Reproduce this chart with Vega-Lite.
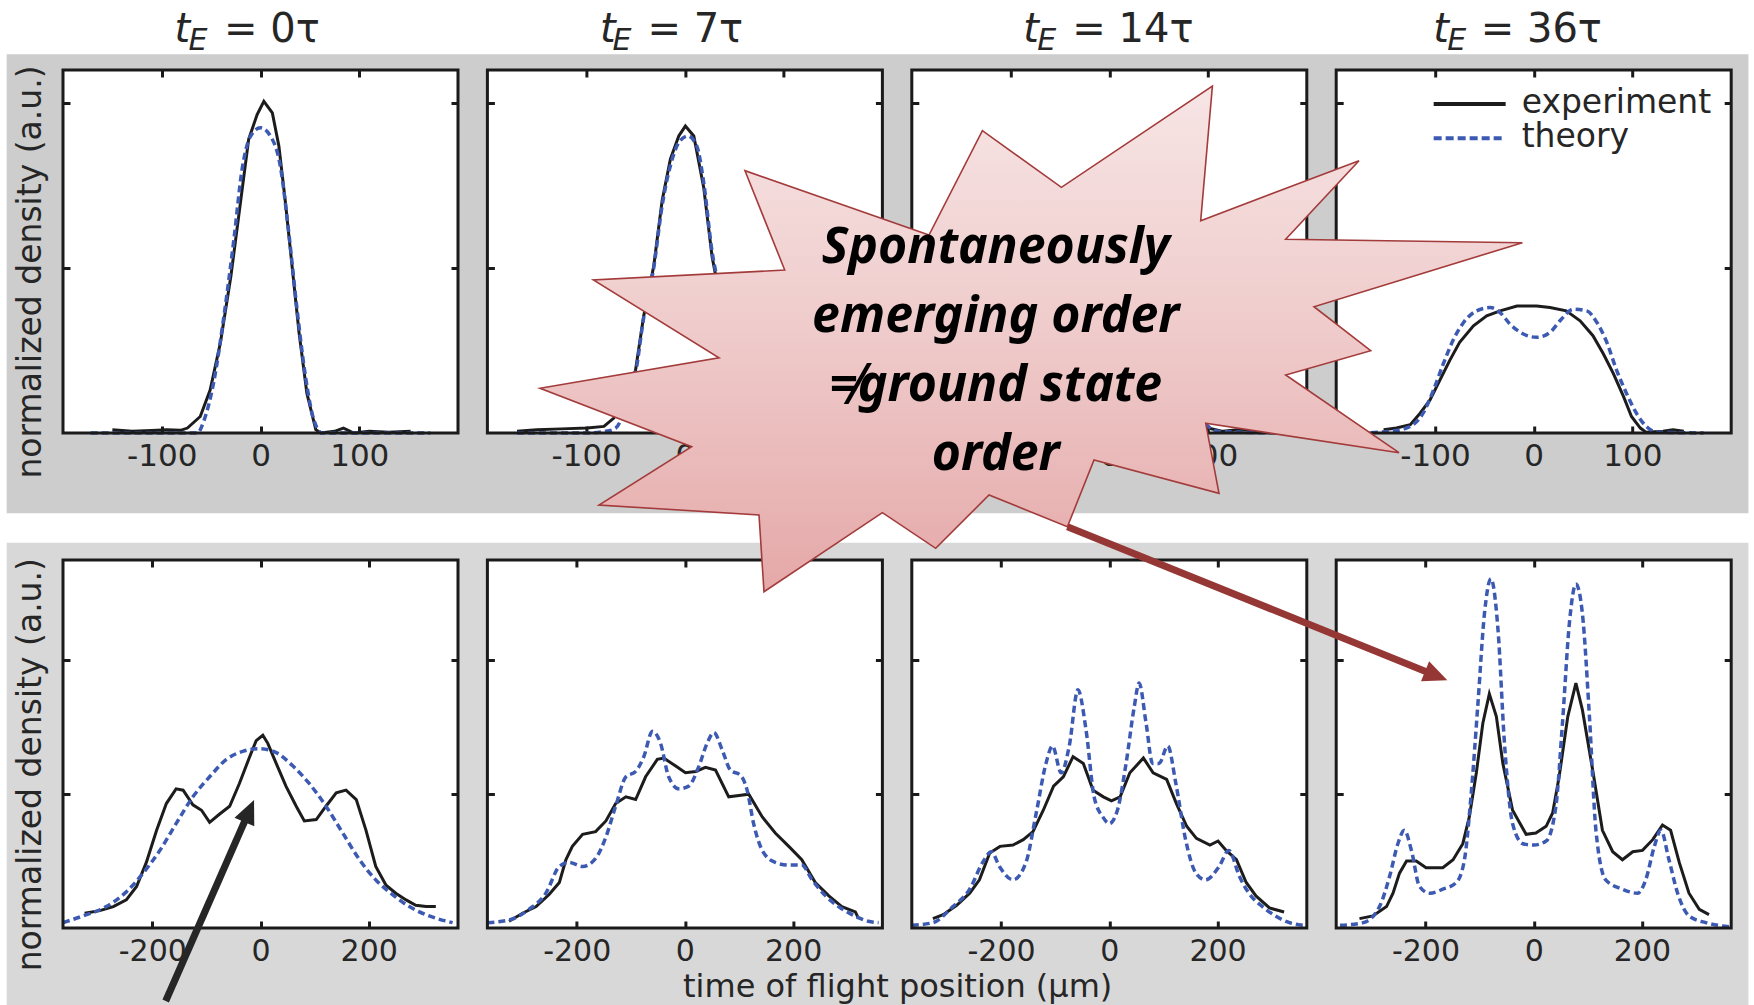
{
  "$schema": "https://vega.github.io/schema/vega-lite/v6.json",
  "background": "white",
  "padding": 0,
  "columns": 4,
  "spacing": {"row": 127, "column": 29.4},
  "bounds": "flush",
  "resolve": {"scale": {"x": "independent", "y": "independent"}, "axis": {"x": "independent", "y": "independent"}},
  "config": {
    "view": {"stroke": null, "fill": "white"},
    "axis": {"grid": false, "domain": false, "tickColor": "#1a1a1a", "tickWidth": 3, "tickSize": -7, "labelFont": "DejaVu Sans", "labelColor": "#262626", "titleFont": "DejaVu Sans", "titleColor": "#262626", "titleFontWeight": "normal", "labelFlush": false, "labelOverlap": false},
    "text": {"font": "DejaVu Sans", "color": "#262626"}
  },
  "datasets": {
    "curves": [
      {"panel": "top0", "series": "experiment", "x": -150, "y": 0.02}, {"panel": "top0", "series": "experiment", "x": -130, "y": 0.01}, {"panel": "top0", "series": "experiment", "x": -110, "y": 0.015}, {"panel": "top0", "series": "experiment", "x": -95, "y": 0.02}, {"panel": "top0", "series": "experiment", "x": -81, "y": 0.016}, {"panel": "top0", "series": "experiment", "x": -74, "y": 0.03}, {"panel": "top0", "series": "experiment", "x": -61, "y": 0.1}, {"panel": "top0", "series": "experiment", "x": -51, "y": 0.26}, {"panel": "top0", "series": "experiment", "x": -40.5, "y": 0.55}, {"panel": "top0", "series": "experiment", "x": -30, "y": 0.95}, {"panel": "top0", "series": "experiment", "x": -20, "y": 1.41}, {"panel": "top0", "series": "experiment", "x": -12, "y": 1.78}, {"panel": "top0", "series": "experiment", "x": -3.4, "y": 1.93}, {"panel": "top0", "series": "experiment", "x": 3.4, "y": 2.01}, {"panel": "top0", "series": "experiment", "x": 12, "y": 1.94}, {"panel": "top0", "series": "experiment", "x": 18.6, "y": 1.74}, {"panel": "top0", "series": "experiment", "x": 25, "y": 1.41}, {"panel": "top0", "series": "experiment", "x": 32, "y": 1.01}, {"panel": "top0", "series": "experiment", "x": 39, "y": 0.61}, {"panel": "top0", "series": "experiment", "x": 47, "y": 0.24}, {"panel": "top0", "series": "experiment", "x": 56, "y": 0.02}, {"panel": "top0", "series": "experiment", "x": 61, "y": 0}, {"panel": "top0", "series": "experiment", "x": 75, "y": 0.01}, {"panel": "top0", "series": "experiment", "x": 84, "y": 0.03}, {"panel": "top0", "series": "experiment", "x": 94.5, "y": 0}, {"panel": "top0", "series": "experiment", "x": 110, "y": 0.01}, {"panel": "top0", "series": "experiment", "x": 130, "y": 0.005}, {"panel": "top0", "series": "experiment", "x": 152, "y": 0.01},
      {"panel": "top0", "series": "theory", "x": -172, "y": 0}, {"panel": "top0", "series": "theory", "x": -64, "y": 0}, {"panel": "top0", "series": "theory", "x": -57, "y": 0.08}, {"panel": "top0", "series": "theory", "x": -47, "y": 0.32}, {"panel": "top0", "series": "theory", "x": -37, "y": 0.71}, {"panel": "top0", "series": "theory", "x": -27, "y": 1.17}, {"panel": "top0", "series": "theory", "x": -18.6, "y": 1.6}, {"panel": "top0", "series": "theory", "x": -10, "y": 1.8}, {"panel": "top0", "series": "theory", "x": 0, "y": 1.85}, {"panel": "top0", "series": "theory", "x": 10, "y": 1.8}, {"panel": "top0", "series": "theory", "x": 20, "y": 1.62}, {"panel": "top0", "series": "theory", "x": 28.7, "y": 1.21}, {"panel": "top0", "series": "theory", "x": 37, "y": 0.75}, {"panel": "top0", "series": "theory", "x": 45.6, "y": 0.34}, {"panel": "top0", "series": "theory", "x": 54, "y": 0.08}, {"panel": "top0", "series": "theory", "x": 62.4, "y": 0}, {"panel": "top0", "series": "theory", "x": 172, "y": 0},
      {"panel": "top7", "series": "experiment", "x": -170, "y": 0.01}, {"panel": "top7", "series": "experiment", "x": -150, "y": 0.02}, {"panel": "top7", "series": "experiment", "x": -125, "y": 0.025}, {"panel": "top7", "series": "experiment", "x": -99, "y": 0.03}, {"panel": "top7", "series": "experiment", "x": -82, "y": 0.04}, {"panel": "top7", "series": "experiment", "x": -72, "y": 0.09}, {"panel": "top7", "series": "experiment", "x": -62, "y": 0.2}, {"panel": "top7", "series": "experiment", "x": -50, "y": 0.38}, {"panel": "top7", "series": "experiment", "x": -41.7, "y": 0.71}, {"panel": "top7", "series": "experiment", "x": -31.6, "y": 1.01}, {"panel": "top7", "series": "experiment", "x": -23, "y": 1.41}, {"panel": "top7", "series": "experiment", "x": -14.7, "y": 1.66}, {"panel": "top7", "series": "experiment", "x": -6.2, "y": 1.8}, {"panel": "top7", "series": "experiment", "x": 0.5, "y": 1.86}, {"panel": "top7", "series": "experiment", "x": 9, "y": 1.8}, {"panel": "top7", "series": "experiment", "x": 19, "y": 1.49}, {"panel": "top7", "series": "experiment", "x": 27.5, "y": 1.07}, {"panel": "top7", "series": "experiment", "x": 32.6, "y": 0.91}, {"panel": "top7", "series": "experiment", "x": 40, "y": 0.6}, {"panel": "top7", "series": "experiment", "x": 50, "y": 0.3}, {"panel": "top7", "series": "experiment", "x": 60, "y": 0.12}, {"panel": "top7", "series": "experiment", "x": 70, "y": 0.05}, {"panel": "top7", "series": "experiment", "x": 82, "y": 0.03}, {"panel": "top7", "series": "experiment", "x": 100, "y": 0.03}, {"panel": "top7", "series": "experiment", "x": 125, "y": 0.02}, {"panel": "top7", "series": "experiment", "x": 150, "y": 0.02}, {"panel": "top7", "series": "experiment", "x": 170, "y": 0.01},
      {"panel": "top7", "series": "theory", "x": -170, "y": 0}, {"panel": "top7", "series": "theory", "x": -100, "y": 0}, {"panel": "top7", "series": "theory", "x": -80, "y": 0.01}, {"panel": "top7", "series": "theory", "x": -70, "y": 0.03}, {"panel": "top7", "series": "theory", "x": -62, "y": 0.12}, {"panel": "top7", "series": "theory", "x": -50, "y": 0.36}, {"panel": "top7", "series": "theory", "x": -41.7, "y": 0.7}, {"panel": "top7", "series": "theory", "x": -31.6, "y": 1.0}, {"panel": "top7", "series": "theory", "x": -23, "y": 1.38}, {"panel": "top7", "series": "theory", "x": -14.7, "y": 1.62}, {"panel": "top7", "series": "theory", "x": -6.2, "y": 1.76}, {"panel": "top7", "series": "theory", "x": 3, "y": 1.8}, {"panel": "top7", "series": "theory", "x": 12, "y": 1.74}, {"panel": "top7", "series": "theory", "x": 19, "y": 1.52}, {"panel": "top7", "series": "theory", "x": 27.5, "y": 1.1}, {"panel": "top7", "series": "theory", "x": 32.6, "y": 0.93}, {"panel": "top7", "series": "theory", "x": 40, "y": 0.62}, {"panel": "top7", "series": "theory", "x": 50, "y": 0.3}, {"panel": "top7", "series": "theory", "x": 60, "y": 0.1}, {"panel": "top7", "series": "theory", "x": 70, "y": 0.02}, {"panel": "top7", "series": "theory", "x": 80, "y": 0}, {"panel": "top7", "series": "theory", "x": 170, "y": 0},
      {"panel": "top14", "series": "experiment", "x": -175, "y": 0.01}, {"panel": "top14", "series": "experiment", "x": -150, "y": 0.02}, {"panel": "top14", "series": "experiment", "x": -125, "y": 0.02}, {"panel": "top14", "series": "experiment", "x": -105, "y": 0.05}, {"panel": "top14", "series": "experiment", "x": -90, "y": 0.15}, {"panel": "top14", "series": "experiment", "x": -75, "y": 0.4}, {"panel": "top14", "series": "experiment", "x": -60, "y": 0.75}, {"panel": "top14", "series": "experiment", "x": -45, "y": 1.05}, {"panel": "top14", "series": "experiment", "x": -30, "y": 1.25}, {"panel": "top14", "series": "experiment", "x": -15, "y": 1.35}, {"panel": "top14", "series": "experiment", "x": 0, "y": 1.38}, {"panel": "top14", "series": "experiment", "x": 15, "y": 1.35}, {"panel": "top14", "series": "experiment", "x": 30, "y": 1.25}, {"panel": "top14", "series": "experiment", "x": 45, "y": 1.05}, {"panel": "top14", "series": "experiment", "x": 60, "y": 0.75}, {"panel": "top14", "series": "experiment", "x": 75, "y": 0.4}, {"panel": "top14", "series": "experiment", "x": 90, "y": 0.12}, {"panel": "top14", "series": "experiment", "x": 100, "y": 0.03}, {"panel": "top14", "series": "experiment", "x": 115, "y": 0.01}, {"panel": "top14", "series": "experiment", "x": 130, "y": 0.02}, {"panel": "top14", "series": "experiment", "x": 150, "y": 0.015}, {"panel": "top14", "series": "experiment", "x": 175, "y": 0.01},
      {"panel": "top14", "series": "theory", "x": -175, "y": 0}, {"panel": "top14", "series": "theory", "x": -110, "y": 0.01}, {"panel": "top14", "series": "theory", "x": -95, "y": 0.08}, {"panel": "top14", "series": "theory", "x": -80, "y": 0.35}, {"panel": "top14", "series": "theory", "x": -65, "y": 0.75}, {"panel": "top14", "series": "theory", "x": -50, "y": 1.1}, {"panel": "top14", "series": "theory", "x": -35, "y": 1.3}, {"panel": "top14", "series": "theory", "x": -20, "y": 1.25}, {"panel": "top14", "series": "theory", "x": -8, "y": 1.15}, {"panel": "top14", "series": "theory", "x": 0, "y": 1.12}, {"panel": "top14", "series": "theory", "x": 8, "y": 1.15}, {"panel": "top14", "series": "theory", "x": 20, "y": 1.25}, {"panel": "top14", "series": "theory", "x": 35, "y": 1.3}, {"panel": "top14", "series": "theory", "x": 50, "y": 1.1}, {"panel": "top14", "series": "theory", "x": 65, "y": 0.75}, {"panel": "top14", "series": "theory", "x": 80, "y": 0.35}, {"panel": "top14", "series": "theory", "x": 95, "y": 0.08}, {"panel": "top14", "series": "theory", "x": 110, "y": 0.01}, {"panel": "top14", "series": "theory", "x": 175, "y": 0},
      {"panel": "top36", "series": "experiment", "x": -152, "y": 0.02}, {"panel": "top36", "series": "experiment", "x": -139, "y": 0.03}, {"panel": "top36", "series": "experiment", "x": -125, "y": 0.05}, {"panel": "top36", "series": "experiment", "x": -115, "y": 0.12}, {"panel": "top36", "series": "experiment", "x": -105, "y": 0.2}, {"panel": "top36", "series": "experiment", "x": -95, "y": 0.32}, {"panel": "top36", "series": "experiment", "x": -85, "y": 0.44}, {"panel": "top36", "series": "experiment", "x": -75, "y": 0.55}, {"panel": "top36", "series": "experiment", "x": -61, "y": 0.65}, {"panel": "top36", "series": "experiment", "x": -47.6, "y": 0.71}, {"panel": "top36", "series": "experiment", "x": -34, "y": 0.74}, {"panel": "top36", "series": "experiment", "x": -17, "y": 0.77}, {"panel": "top36", "series": "experiment", "x": 3, "y": 0.77}, {"panel": "top36", "series": "experiment", "x": 16.5, "y": 0.76}, {"panel": "top36", "series": "experiment", "x": 33, "y": 0.74}, {"panel": "top36", "series": "experiment", "x": 47, "y": 0.68}, {"panel": "top36", "series": "experiment", "x": 60, "y": 0.59}, {"panel": "top36", "series": "experiment", "x": 70.5, "y": 0.48}, {"panel": "top36", "series": "experiment", "x": 80.7, "y": 0.36}, {"panel": "top36", "series": "experiment", "x": 91, "y": 0.22}, {"panel": "top36", "series": "experiment", "x": 99, "y": 0.1}, {"panel": "top36", "series": "experiment", "x": 108, "y": 0.03}, {"panel": "top36", "series": "experiment", "x": 114, "y": 0.004}, {"panel": "top36", "series": "experiment", "x": 131, "y": 0.01}, {"panel": "top36", "series": "experiment", "x": 141, "y": 0.02}, {"panel": "top36", "series": "experiment", "x": 152, "y": 0.01},
      {"panel": "top36", "series": "theory", "x": -176, "y": 0}, {"panel": "top36", "series": "theory", "x": -145, "y": 0.01}, {"panel": "top36", "series": "theory", "x": -125, "y": 0.04}, {"panel": "top36", "series": "theory", "x": -112, "y": 0.12}, {"panel": "top36", "series": "theory", "x": -101.5, "y": 0.26}, {"panel": "top36", "series": "theory", "x": -91.5, "y": 0.42}, {"panel": "top36", "series": "theory", "x": -81, "y": 0.57}, {"panel": "top36", "series": "theory", "x": -71, "y": 0.67}, {"panel": "top36", "series": "theory", "x": -58, "y": 0.74}, {"panel": "top36", "series": "theory", "x": -44, "y": 0.76}, {"panel": "top36", "series": "theory", "x": -34, "y": 0.73}, {"panel": "top36", "series": "theory", "x": -24, "y": 0.66}, {"panel": "top36", "series": "theory", "x": -10.5, "y": 0.6}, {"panel": "top36", "series": "theory", "x": 3, "y": 0.58}, {"panel": "top36", "series": "theory", "x": 16.5, "y": 0.61}, {"panel": "top36", "series": "theory", "x": 28, "y": 0.69}, {"panel": "top36", "series": "theory", "x": 40, "y": 0.75}, {"panel": "top36", "series": "theory", "x": 53.7, "y": 0.74}, {"panel": "top36", "series": "theory", "x": 64, "y": 0.67}, {"panel": "top36", "series": "theory", "x": 74, "y": 0.55}, {"panel": "top36", "series": "theory", "x": 84, "y": 0.38}, {"panel": "top36", "series": "theory", "x": 94, "y": 0.24}, {"panel": "top36", "series": "theory", "x": 104, "y": 0.12}, {"panel": "top36", "series": "theory", "x": 114, "y": 0.04}, {"panel": "top36", "series": "theory", "x": 124.6, "y": 0.006}, {"panel": "top36", "series": "theory", "x": 172, "y": 0},
      {"panel": "bot0", "series": "experiment", "x": -325, "y": 0.11}, {"panel": "bot0", "series": "experiment", "x": -297, "y": 0.13}, {"panel": "bot0", "series": "experiment", "x": -272, "y": 0.16}, {"panel": "bot0", "series": "experiment", "x": -248, "y": 0.21}, {"panel": "bot0", "series": "experiment", "x": -229, "y": 0.31}, {"panel": "bot0", "series": "experiment", "x": -211, "y": 0.49}, {"panel": "bot0", "series": "experiment", "x": -192, "y": 0.73}, {"panel": "bot0", "series": "experiment", "x": -174, "y": 0.93}, {"panel": "bot0", "series": "experiment", "x": -156, "y": 1.04}, {"panel": "bot0", "series": "experiment", "x": -143, "y": 1.03}, {"panel": "bot0", "series": "experiment", "x": -125, "y": 0.92}, {"panel": "bot0", "series": "experiment", "x": -109, "y": 0.88}, {"panel": "bot0", "series": "experiment", "x": -94, "y": 0.79}, {"panel": "bot0", "series": "experiment", "x": -76, "y": 0.85}, {"panel": "bot0", "series": "experiment", "x": -57, "y": 0.91}, {"panel": "bot0", "series": "experiment", "x": -39, "y": 1.08}, {"panel": "bot0", "series": "experiment", "x": -20, "y": 1.28}, {"panel": "bot0", "series": "experiment", "x": -8, "y": 1.4}, {"panel": "bot0", "series": "experiment", "x": 4.3, "y": 1.44}, {"panel": "bot0", "series": "experiment", "x": 13.5, "y": 1.38}, {"panel": "bot0", "series": "experiment", "x": 29, "y": 1.23}, {"panel": "bot0", "series": "experiment", "x": 47, "y": 1.06}, {"panel": "bot0", "series": "experiment", "x": 66, "y": 0.91}, {"panel": "bot0", "series": "experiment", "x": 81, "y": 0.8}, {"panel": "bot0", "series": "experiment", "x": 103, "y": 0.81}, {"panel": "bot0", "series": "experiment", "x": 121, "y": 0.91}, {"panel": "bot0", "series": "experiment", "x": 140, "y": 1.01}, {"panel": "bot0", "series": "experiment", "x": 158, "y": 1.03}, {"panel": "bot0", "series": "experiment", "x": 177, "y": 0.96}, {"panel": "bot0", "series": "experiment", "x": 195, "y": 0.73}, {"panel": "bot0", "series": "experiment", "x": 213, "y": 0.46}, {"panel": "bot0", "series": "experiment", "x": 232, "y": 0.32}, {"panel": "bot0", "series": "experiment", "x": 250, "y": 0.26}, {"panel": "bot0", "series": "experiment", "x": 269, "y": 0.21}, {"panel": "bot0", "series": "experiment", "x": 287, "y": 0.17}, {"panel": "bot0", "series": "experiment", "x": 306, "y": 0.16}, {"panel": "bot0", "series": "experiment", "x": 324, "y": 0.16},
      {"panel": "bot0", "series": "theory", "x": -365, "y": 0.04}, {"panel": "bot0", "series": "theory", "x": -328, "y": 0.09}, {"panel": "bot0", "series": "theory", "x": -285, "y": 0.16}, {"panel": "bot0", "series": "theory", "x": -248, "y": 0.27}, {"panel": "bot0", "series": "theory", "x": -217, "y": 0.41}, {"panel": "bot0", "series": "theory", "x": -186, "y": 0.58}, {"panel": "bot0", "series": "theory", "x": -156, "y": 0.78}, {"panel": "bot0", "series": "theory", "x": -125, "y": 0.98}, {"panel": "bot0", "series": "theory", "x": -94, "y": 1.13}, {"panel": "bot0", "series": "theory", "x": -63, "y": 1.26}, {"panel": "bot0", "series": "theory", "x": -33, "y": 1.32}, {"panel": "bot0", "series": "theory", "x": -2, "y": 1.34}, {"panel": "bot0", "series": "theory", "x": 29, "y": 1.31}, {"panel": "bot0", "series": "theory", "x": 60, "y": 1.21}, {"panel": "bot0", "series": "theory", "x": 90, "y": 1.08}, {"panel": "bot0", "series": "theory", "x": 121, "y": 0.91}, {"panel": "bot0", "series": "theory", "x": 152, "y": 0.71}, {"panel": "bot0", "series": "theory", "x": 183, "y": 0.51}, {"panel": "bot0", "series": "theory", "x": 213, "y": 0.36}, {"panel": "bot0", "series": "theory", "x": 244, "y": 0.25}, {"panel": "bot0", "series": "theory", "x": 275, "y": 0.16}, {"panel": "bot0", "series": "theory", "x": 312, "y": 0.09}, {"panel": "bot0", "series": "theory", "x": 355, "y": 0.04},
      {"panel": "bot7", "series": "experiment", "x": -325, "y": 0.05}, {"panel": "bot7", "series": "experiment", "x": -300, "y": 0.11}, {"panel": "bot7", "series": "experiment", "x": -275, "y": 0.16}, {"panel": "bot7", "series": "experiment", "x": -251, "y": 0.25}, {"panel": "bot7", "series": "experiment", "x": -232, "y": 0.34}, {"panel": "bot7", "series": "experiment", "x": -220, "y": 0.51}, {"panel": "bot7", "series": "experiment", "x": -208, "y": 0.61}, {"panel": "bot7", "series": "experiment", "x": -189, "y": 0.7}, {"panel": "bot7", "series": "experiment", "x": -165, "y": 0.72}, {"panel": "bot7", "series": "experiment", "x": -146, "y": 0.8}, {"panel": "bot7", "series": "experiment", "x": -128, "y": 0.93}, {"panel": "bot7", "series": "experiment", "x": -109, "y": 0.98}, {"panel": "bot7", "series": "experiment", "x": -91, "y": 0.96}, {"panel": "bot7", "series": "experiment", "x": -72.6, "y": 1.13}, {"panel": "bot7", "series": "experiment", "x": -51, "y": 1.26}, {"panel": "bot7", "series": "experiment", "x": -39, "y": 1.27}, {"panel": "bot7", "series": "experiment", "x": -17, "y": 1.21}, {"panel": "bot7", "series": "experiment", "x": 1, "y": 1.16}, {"panel": "bot7", "series": "experiment", "x": 20, "y": 1.17}, {"panel": "bot7", "series": "experiment", "x": 38, "y": 1.2}, {"panel": "bot7", "series": "experiment", "x": 56.6, "y": 1.18}, {"panel": "bot7", "series": "experiment", "x": 81, "y": 0.98}, {"panel": "bot7", "series": "experiment", "x": 100, "y": 0.99}, {"panel": "bot7", "series": "experiment", "x": 118, "y": 1.0}, {"panel": "bot7", "series": "experiment", "x": 143, "y": 0.83}, {"panel": "bot7", "series": "experiment", "x": 167, "y": 0.71}, {"panel": "bot7", "series": "experiment", "x": 192, "y": 0.61}, {"panel": "bot7", "series": "experiment", "x": 216, "y": 0.51}, {"panel": "bot7", "series": "experiment", "x": 241, "y": 0.34}, {"panel": "bot7", "series": "experiment", "x": 266, "y": 0.24}, {"panel": "bot7", "series": "experiment", "x": 290, "y": 0.16}, {"panel": "bot7", "series": "experiment", "x": 315, "y": 0.12}, {"panel": "bot7", "series": "experiment", "x": 321, "y": 0.07},
      {"panel": "bot7", "series": "theory", "x": -365, "y": 0.04}, {"panel": "bot7", "series": "theory", "x": -325, "y": 0.06}, {"panel": "bot7", "series": "theory", "x": -288, "y": 0.14}, {"panel": "bot7", "series": "theory", "x": -257, "y": 0.26}, {"panel": "bot7", "series": "theory", "x": -232, "y": 0.46}, {"panel": "bot7", "series": "theory", "x": -214, "y": 0.49}, {"panel": "bot7", "series": "theory", "x": -189, "y": 0.46}, {"panel": "bot7", "series": "theory", "x": -165, "y": 0.52}, {"panel": "bot7", "series": "theory", "x": -146, "y": 0.68}, {"panel": "bot7", "series": "theory", "x": -128, "y": 0.91}, {"panel": "bot7", "series": "theory", "x": -109, "y": 1.13}, {"panel": "bot7", "series": "theory", "x": -91, "y": 1.17}, {"panel": "bot7", "series": "theory", "x": -76, "y": 1.28}, {"panel": "bot7", "series": "theory", "x": -60, "y": 1.47}, {"panel": "bot7", "series": "theory", "x": -45, "y": 1.38}, {"panel": "bot7", "series": "theory", "x": -30, "y": 1.13}, {"panel": "bot7", "series": "theory", "x": -11, "y": 1.04}, {"panel": "bot7", "series": "theory", "x": 7, "y": 1.06}, {"panel": "bot7", "series": "theory", "x": 26, "y": 1.21}, {"panel": "bot7", "series": "theory", "x": 41, "y": 1.38}, {"panel": "bot7", "series": "theory", "x": 53.5, "y": 1.46}, {"panel": "bot7", "series": "theory", "x": 69, "y": 1.33}, {"panel": "bot7", "series": "theory", "x": 84, "y": 1.18}, {"panel": "bot7", "series": "theory", "x": 103, "y": 1.14}, {"panel": "bot7", "series": "theory", "x": 115, "y": 1.03}, {"panel": "bot7", "series": "theory", "x": 127, "y": 0.78}, {"panel": "bot7", "series": "theory", "x": 143, "y": 0.58}, {"panel": "bot7", "series": "theory", "x": 167, "y": 0.49}, {"panel": "bot7", "series": "theory", "x": 192, "y": 0.47}, {"panel": "bot7", "series": "theory", "x": 216, "y": 0.47}, {"panel": "bot7", "series": "theory", "x": 235, "y": 0.36}, {"panel": "bot7", "series": "theory", "x": 260, "y": 0.24}, {"panel": "bot7", "series": "theory", "x": 284, "y": 0.16}, {"panel": "bot7", "series": "theory", "x": 309, "y": 0.1}, {"panel": "bot7", "series": "theory", "x": 339, "y": 0.05}, {"panel": "bot7", "series": "theory", "x": 358, "y": 0.04},
      {"panel": "bot14", "series": "experiment", "x": -326, "y": 0.07}, {"panel": "bot14", "series": "experiment", "x": -307, "y": 0.1}, {"panel": "bot14", "series": "experiment", "x": -282, "y": 0.17}, {"panel": "bot14", "series": "experiment", "x": -258, "y": 0.26}, {"panel": "bot14", "series": "experiment", "x": -240, "y": 0.36}, {"panel": "bot14", "series": "experiment", "x": -221, "y": 0.56}, {"panel": "bot14", "series": "experiment", "x": -202, "y": 0.61}, {"panel": "bot14", "series": "experiment", "x": -178, "y": 0.62}, {"panel": "bot14", "series": "experiment", "x": -159, "y": 0.66}, {"panel": "bot14", "series": "experiment", "x": -141, "y": 0.72}, {"panel": "bot14", "series": "experiment", "x": -122, "y": 0.88}, {"panel": "bot14", "series": "experiment", "x": -103, "y": 1.06}, {"panel": "bot14", "series": "experiment", "x": -85, "y": 1.13}, {"panel": "bot14", "series": "experiment", "x": -67, "y": 1.28}, {"panel": "bot14", "series": "experiment", "x": -48, "y": 1.23}, {"panel": "bot14", "series": "experiment", "x": -30, "y": 1.03}, {"panel": "bot14", "series": "experiment", "x": -11, "y": 0.98}, {"panel": "bot14", "series": "experiment", "x": 4, "y": 0.95}, {"panel": "bot14", "series": "experiment", "x": 20, "y": 0.98}, {"panel": "bot14", "series": "experiment", "x": 38, "y": 1.16}, {"panel": "bot14", "series": "experiment", "x": 63, "y": 1.27}, {"panel": "bot14", "series": "experiment", "x": 81, "y": 1.16}, {"panel": "bot14", "series": "experiment", "x": 106, "y": 1.11}, {"panel": "bot14", "series": "experiment", "x": 124, "y": 0.93}, {"panel": "bot14", "series": "experiment", "x": 143, "y": 0.76}, {"panel": "bot14", "series": "experiment", "x": 161, "y": 0.67}, {"panel": "bot14", "series": "experiment", "x": 186, "y": 0.62}, {"panel": "bot14", "series": "experiment", "x": 201, "y": 0.65}, {"panel": "bot14", "series": "experiment", "x": 216, "y": 0.58}, {"panel": "bot14", "series": "experiment", "x": 235, "y": 0.51}, {"panel": "bot14", "series": "experiment", "x": 253, "y": 0.34}, {"panel": "bot14", "series": "experiment", "x": 271, "y": 0.24}, {"panel": "bot14", "series": "experiment", "x": 296, "y": 0.15}, {"panel": "bot14", "series": "experiment", "x": 323, "y": 0.12},
      {"panel": "bot14", "series": "theory", "x": -365, "y": 0.02}, {"panel": "bot14", "series": "theory", "x": -326, "y": 0.04}, {"panel": "bot14", "series": "theory", "x": -289, "y": 0.16}, {"panel": "bot14", "series": "theory", "x": -258, "y": 0.29}, {"panel": "bot14", "series": "theory", "x": -234, "y": 0.49}, {"panel": "bot14", "series": "theory", "x": -218, "y": 0.57}, {"panel": "bot14", "series": "theory", "x": -203, "y": 0.46}, {"panel": "bot14", "series": "theory", "x": -178, "y": 0.36}, {"panel": "bot14", "series": "theory", "x": -154, "y": 0.49}, {"panel": "bot14", "series": "theory", "x": -135, "y": 0.86}, {"panel": "bot14", "series": "theory", "x": -117, "y": 1.23}, {"panel": "bot14", "series": "theory", "x": -105, "y": 1.36}, {"panel": "bot14", "series": "theory", "x": -89, "y": 1.16}, {"panel": "bot14", "series": "theory", "x": -74, "y": 1.36}, {"panel": "bot14", "series": "theory", "x": -58, "y": 1.78}, {"panel": "bot14", "series": "theory", "x": -43, "y": 1.48}, {"panel": "bot14", "series": "theory", "x": -28, "y": 0.98}, {"panel": "bot14", "series": "theory", "x": -12, "y": 0.83}, {"panel": "bot14", "series": "theory", "x": 0, "y": 0.78}, {"panel": "bot14", "series": "theory", "x": 15, "y": 0.88}, {"panel": "bot14", "series": "theory", "x": 31, "y": 1.23}, {"panel": "bot14", "series": "theory", "x": 46, "y": 1.65}, {"panel": "bot14", "series": "theory", "x": 55, "y": 1.83}, {"panel": "bot14", "series": "theory", "x": 68, "y": 1.53}, {"panel": "bot14", "series": "theory", "x": 80, "y": 1.23}, {"panel": "bot14", "series": "theory", "x": 92, "y": 1.23}, {"panel": "bot14", "series": "theory", "x": 108, "y": 1.36}, {"panel": "bot14", "series": "theory", "x": 123, "y": 1.08}, {"panel": "bot14", "series": "theory", "x": 141, "y": 0.66}, {"panel": "bot14", "series": "theory", "x": 160, "y": 0.41}, {"panel": "bot14", "series": "theory", "x": 178, "y": 0.36}, {"panel": "bot14", "series": "theory", "x": 203, "y": 0.46}, {"panel": "bot14", "series": "theory", "x": 221, "y": 0.58}, {"panel": "bot14", "series": "theory", "x": 240, "y": 0.39}, {"panel": "bot14", "series": "theory", "x": 258, "y": 0.26}, {"panel": "bot14", "series": "theory", "x": 283, "y": 0.16}, {"panel": "bot14", "series": "theory", "x": 307, "y": 0.09}, {"panel": "bot14", "series": "theory", "x": 333, "y": 0.04}, {"panel": "bot14", "series": "theory", "x": 360, "y": 0.02},
      {"panel": "bot36", "series": "experiment", "x": -322, "y": 0.07}, {"panel": "bot36", "series": "experiment", "x": -297, "y": 0.09}, {"panel": "bot36", "series": "experiment", "x": -272, "y": 0.16}, {"panel": "bot36", "series": "experiment", "x": -260, "y": 0.26}, {"panel": "bot36", "series": "experiment", "x": -248, "y": 0.41}, {"panel": "bot36", "series": "experiment", "x": -235, "y": 0.5}, {"panel": "bot36", "series": "experiment", "x": -217, "y": 0.5}, {"panel": "bot36", "series": "experiment", "x": -199, "y": 0.45}, {"panel": "bot36", "series": "experiment", "x": -168, "y": 0.45}, {"panel": "bot36", "series": "experiment", "x": -149, "y": 0.51}, {"panel": "bot36", "series": "experiment", "x": -131, "y": 0.63}, {"panel": "bot36", "series": "experiment", "x": -119, "y": 0.83}, {"panel": "bot36", "series": "experiment", "x": -106, "y": 1.16}, {"panel": "bot36", "series": "experiment", "x": -94, "y": 1.53}, {"panel": "bot36", "series": "experiment", "x": -82, "y": 1.75}, {"panel": "bot36", "series": "experiment", "x": -69, "y": 1.58}, {"panel": "bot36", "series": "experiment", "x": -57, "y": 1.23}, {"panel": "bot36", "series": "experiment", "x": -39, "y": 0.88}, {"panel": "bot36", "series": "experiment", "x": -14, "y": 0.7}, {"panel": "bot36", "series": "experiment", "x": 4, "y": 0.71}, {"panel": "bot36", "series": "experiment", "x": 23, "y": 0.76}, {"panel": "bot36", "series": "experiment", "x": 35, "y": 0.86}, {"panel": "bot36", "series": "experiment", "x": 47, "y": 1.13}, {"panel": "bot36", "series": "experiment", "x": 63, "y": 1.58}, {"panel": "bot36", "series": "experiment", "x": 78, "y": 1.83}, {"panel": "bot36", "series": "experiment", "x": 90, "y": 1.63}, {"panel": "bot36", "series": "experiment", "x": 109, "y": 1.18}, {"panel": "bot36", "series": "experiment", "x": 127, "y": 0.73}, {"panel": "bot36", "series": "experiment", "x": 146, "y": 0.57}, {"panel": "bot36", "series": "experiment", "x": 164, "y": 0.51}, {"panel": "bot36", "series": "experiment", "x": 183, "y": 0.57}, {"panel": "bot36", "series": "experiment", "x": 201, "y": 0.58}, {"panel": "bot36", "series": "experiment", "x": 220, "y": 0.66}, {"panel": "bot36", "series": "experiment", "x": 238, "y": 0.77}, {"panel": "bot36", "series": "experiment", "x": 253, "y": 0.73}, {"panel": "bot36", "series": "experiment", "x": 269, "y": 0.49}, {"panel": "bot36", "series": "experiment", "x": 287, "y": 0.26}, {"panel": "bot36", "series": "experiment", "x": 306, "y": 0.14}, {"panel": "bot36", "series": "experiment", "x": 324, "y": 0.1},
      {"panel": "bot36", "series": "theory", "x": -358, "y": 0.02}, {"panel": "bot36", "series": "theory", "x": -315, "y": 0.04}, {"panel": "bot36", "series": "theory", "x": -285, "y": 0.16}, {"panel": "bot36", "series": "theory", "x": -266, "y": 0.39}, {"panel": "bot36", "series": "theory", "x": -251, "y": 0.63}, {"panel": "bot36", "series": "theory", "x": -239, "y": 0.73}, {"panel": "bot36", "series": "theory", "x": -226, "y": 0.58}, {"panel": "bot36", "series": "theory", "x": -211, "y": 0.31}, {"panel": "bot36", "series": "theory", "x": -192, "y": 0.26}, {"panel": "bot36", "series": "theory", "x": -168, "y": 0.29}, {"panel": "bot36", "series": "theory", "x": -143, "y": 0.34}, {"panel": "bot36", "series": "theory", "x": -128, "y": 0.51}, {"panel": "bot36", "series": "theory", "x": -116, "y": 0.98}, {"panel": "bot36", "series": "theory", "x": -103, "y": 1.68}, {"panel": "bot36", "series": "theory", "x": -91, "y": 2.35}, {"panel": "bot36", "series": "theory", "x": -79, "y": 2.61}, {"panel": "bot36", "series": "theory", "x": -66, "y": 2.23}, {"panel": "bot36", "series": "theory", "x": -54, "y": 1.38}, {"panel": "bot36", "series": "theory", "x": -39, "y": 0.78}, {"panel": "bot36", "series": "theory", "x": -20, "y": 0.63}, {"panel": "bot36", "series": "theory", "x": 0, "y": 0.62}, {"panel": "bot36", "series": "theory", "x": 23, "y": 0.65}, {"panel": "bot36", "series": "theory", "x": 41, "y": 0.91}, {"panel": "bot36", "series": "theory", "x": 53.5, "y": 1.55}, {"panel": "bot36", "series": "theory", "x": 66, "y": 2.28}, {"panel": "bot36", "series": "theory", "x": 78, "y": 2.57}, {"panel": "bot36", "series": "theory", "x": 90, "y": 2.35}, {"panel": "bot36", "series": "theory", "x": 103, "y": 1.58}, {"panel": "bot36", "series": "theory", "x": 115, "y": 0.73}, {"panel": "bot36", "series": "theory", "x": 133, "y": 0.36}, {"panel": "bot36", "series": "theory", "x": 164, "y": 0.29}, {"panel": "bot36", "series": "theory", "x": 192, "y": 0.26}, {"panel": "bot36", "series": "theory", "x": 207, "y": 0.36}, {"panel": "bot36", "series": "theory", "x": 223, "y": 0.61}, {"panel": "bot36", "series": "theory", "x": 235, "y": 0.73}, {"panel": "bot36", "series": "theory", "x": 250, "y": 0.51}, {"panel": "bot36", "series": "theory", "x": 266, "y": 0.26}, {"panel": "bot36", "series": "theory", "x": 287, "y": 0.09}, {"panel": "bot36", "series": "theory", "x": 318, "y": 0.04}, {"panel": "bot36", "series": "theory", "x": 361, "y": 0.01}
    ]
  },
  "concat": [
    {
      "width": 395, "height": 363,
      "resolve": {"axis": {"x": "independent", "y": "independent"}},
      "layer": [
        {"data": {"values": [{}]}, "mark": {"type": "rect", "color": "white"},
         "encoding": {"x": {"datum": -263.09, "type": "quantitative", "scale": {"domain": [-200, 200], "nice": false, "zero": false}, "axis": null}, "x2": {"datum": 1513.1}, "y": {"datum": 2.2952, "type": "quantitative", "scale": {"domain": [0, 2.2], "nice": false, "zero": false}, "axis": null}, "y2": {"datum": 2.6242}}},
        {"data": {"values": [{}]}, "mark": {"type": "rect", "color": "#cdcdcd"},
         "encoding": {"x": {"datum": -257.01, "type": "quantitative", "scale": {"domain": [-200, 200], "nice": false, "zero": false}, "axis": null}, "x2": {"datum": 1506.73}, "y": {"datum": -0.4867, "type": "quantitative", "scale": {"domain": [0, 2.2], "nice": false, "zero": false}, "axis": null}, "y2": {"datum": 2.2952}}},
        {"data": {"values": [{}]}, "mark": {"type": "rect", "color": "white"},
         "encoding": {"x": {"datum": -200, "type": "quantitative", "scale": {"domain": [-200, 200], "nice": false, "zero": false}, "axis": null}, "x2": {"datum": 200}, "y": {"datum": 0, "type": "quantitative", "scale": {"domain": [0, 2.2], "nice": false, "zero": false}, "axis": null}, "y2": {"datum": 2.2}}},
        {"data": {"name": "curves"}, "transform": [{"filter": "datum.panel == 'top0' && datum.series == 'experiment'"}],
         "mark": {"type": "line", "color": "#1c1c1c", "strokeWidth": 3},
         "encoding": {
           "x": {"field": "x", "type": "quantitative", "scale": {"domain": [-200, 200], "nice": false, "zero": false}, "axis": {"orient": "bottom", "zindex": 1, "values": [-100, 0, 100], "labelFontSize": 31, "labelPadding": 39, "labelBaseline": "alphabetic", "labelExpr": "datum.value < 0 ? '-' + abs(datum.value) : '' + datum.value", "title": null}},
           "y": {"field": "y", "type": "quantitative", "scale": {"domain": [0, 2.2], "nice": false, "zero": false}, "axis": {"orient": "left", "zindex": 1, "values": [1, 2], "labels": false, "title": "normalized density (a.u.)", "titleFontSize": 33, "titleX": -22.3, "titleY": 201.5, "titleAngle": 270, "titleAlign": "center", "titleBaseline": "alphabetic"}}
         }},
        {"data": {"name": "curves"}, "transform": [{"filter": "datum.panel == 'top0' && datum.series == 'theory'"}],
         "mark": {"type": "line", "color": "#3d5ab3", "strokeWidth": 3.5, "strokeDash": [7, 4], "interpolate": "monotone"},
         "encoding": {"x": {"field": "x", "type": "quantitative", "scale": {"domain": [-200, 200], "nice": false, "zero": false}, "axis": null}, "y": {"field": "y", "type": "quantitative", "scale": {"domain": [0, 2.2], "nice": false, "zero": false}, "axis": null}}},
        {"data": {"values": [{}]}, "mark": {"type": "rect", "filled": false, "color": "#1a1a1a", "strokeWidth": 3},
         "encoding": {"x": {"datum": -200, "type": "quantitative", "scale": {"domain": [-200, 200], "nice": false, "zero": false}, "axis": {"orient": "top", "zindex": 1, "values": [-100, 0, 100], "labels": false, "title": null}}, "x2": {"datum": 200}, "y": {"datum": 0, "type": "quantitative", "scale": {"domain": [0, 2.2], "nice": false, "zero": false}, "axis": {"orient": "right", "zindex": 1, "values": [1, 2], "labels": false, "title": null}}, "y2": {"datum": 2.2}}},
        {"data": {"values": [{}]}, "mark": {"type": "text", "text": "t", "fontStyle": "italic", "fontSize": 40, "align": "left", "baseline": "alphabetic", "dx": -86, "dy": -28.3},
         "encoding": {"x": {"datum": 0, "type": "quantitative", "scale": {"domain": [-200, 200], "nice": false, "zero": false}, "axis": null}, "y": {"datum": 2.2, "type": "quantitative", "scale": {"domain": [0, 2.2], "nice": false, "zero": false}, "axis": null}}},
        {"data": {"values": [{}]}, "mark": {"type": "text", "text": "E", "fontStyle": "italic", "fontSize": 30, "align": "left", "baseline": "alphabetic", "dx": -72, "dy": -20},
         "encoding": {"x": {"datum": 0, "type": "quantitative", "scale": {"domain": [-200, 200], "nice": false, "zero": false}, "axis": null}, "y": {"datum": 2.2, "type": "quantitative", "scale": {"domain": [0, 2.2], "nice": false, "zero": false}, "axis": null}}},
        {"data": {"values": [{}]}, "mark": {"type": "text", "text": "= 0τ", "fontSize": 40, "align": "left", "baseline": "alphabetic", "dx": -36.5, "dy": -28.3},
         "encoding": {"x": {"datum": 0, "type": "quantitative", "scale": {"domain": [-200, 200], "nice": false, "zero": false}, "axis": null}, "y": {"datum": 2.2, "type": "quantitative", "scale": {"domain": [0, 2.2], "nice": false, "zero": false}, "axis": null}}}
      ]
    },
    {
      "width": 395, "height": 363,
      "resolve": {"axis": {"x": "independent", "y": "independent"}},
      "layer": [
        {"data": {"name": "curves"}, "transform": [{"filter": "datum.panel == 'top7' && datum.series == 'experiment'"}],
         "mark": {"type": "line", "color": "#1c1c1c", "strokeWidth": 3},
         "encoding": {
           "x": {"field": "x", "type": "quantitative", "scale": {"domain": [-200, 200], "nice": false, "zero": false}, "axis": {"orient": "bottom", "values": [-100, 0, 100], "labelFontSize": 31, "labelPadding": 39, "labelBaseline": "alphabetic", "labelExpr": "datum.value < 0 ? '-' + abs(datum.value) : '' + datum.value", "title": null}},
           "y": {"field": "y", "type": "quantitative", "scale": {"domain": [0, 2.2], "nice": false, "zero": false}, "axis": {"orient": "left", "values": [1, 2], "labels": false, "title": null}}
         }},
        {"data": {"name": "curves"}, "transform": [{"filter": "datum.panel == 'top7' && datum.series == 'theory'"}],
         "mark": {"type": "line", "color": "#3d5ab3", "strokeWidth": 3.5, "strokeDash": [7, 4], "interpolate": "monotone"},
         "encoding": {"x": {"field": "x", "type": "quantitative", "scale": {"domain": [-200, 200], "nice": false, "zero": false}, "axis": null}, "y": {"field": "y", "type": "quantitative", "scale": {"domain": [0, 2.2], "nice": false, "zero": false}, "axis": null}}},
        {"data": {"values": [{}]}, "mark": {"type": "rect", "filled": false, "color": "#1a1a1a", "strokeWidth": 3},
         "encoding": {"x": {"datum": -200, "type": "quantitative", "scale": {"domain": [-200, 200], "nice": false, "zero": false}, "axis": {"orient": "top", "values": [-100, 0, 100], "labels": false, "title": null}}, "x2": {"datum": 200}, "y": {"datum": 0, "type": "quantitative", "scale": {"domain": [0, 2.2], "nice": false, "zero": false}, "axis": {"orient": "right", "values": [1, 2], "labels": false, "title": null}}, "y2": {"datum": 2.2}}},
        {"data": {"values": [{}]}, "mark": {"type": "text", "text": "t", "fontStyle": "italic", "fontSize": 40, "align": "left", "baseline": "alphabetic", "dx": -85, "dy": -28.3},
         "encoding": {"x": {"datum": 0, "type": "quantitative", "scale": {"domain": [-200, 200], "nice": false, "zero": false}, "axis": null}, "y": {"datum": 2.2, "type": "quantitative", "scale": {"domain": [0, 2.2], "nice": false, "zero": false}, "axis": null}}},
        {"data": {"values": [{}]}, "mark": {"type": "text", "text": "E", "fontStyle": "italic", "fontSize": 30, "align": "left", "baseline": "alphabetic", "dx": -72.5, "dy": -20},
         "encoding": {"x": {"datum": 0, "type": "quantitative", "scale": {"domain": [-200, 200], "nice": false, "zero": false}, "axis": null}, "y": {"datum": 2.2, "type": "quantitative", "scale": {"domain": [0, 2.2], "nice": false, "zero": false}, "axis": null}}},
        {"data": {"values": [{}]}, "mark": {"type": "text", "text": "= 7τ", "fontSize": 40, "align": "left", "baseline": "alphabetic", "dx": -37.5, "dy": -28.3},
         "encoding": {"x": {"datum": 0, "type": "quantitative", "scale": {"domain": [-200, 200], "nice": false, "zero": false}, "axis": null}, "y": {"datum": 2.2, "type": "quantitative", "scale": {"domain": [0, 2.2], "nice": false, "zero": false}, "axis": null}}}
      ]
    },
    {
      "width": 395, "height": 363,
      "resolve": {"axis": {"x": "independent", "y": "independent"}},
      "layer": [
        {"data": {"name": "curves"}, "transform": [{"filter": "datum.panel == 'top14' && datum.series == 'experiment'"}],
         "mark": {"type": "line", "color": "#1c1c1c", "strokeWidth": 3},
         "encoding": {
           "x": {"field": "x", "type": "quantitative", "scale": {"domain": [-200, 200], "nice": false, "zero": false}, "axis": {"orient": "bottom", "values": [-100, 0, 100], "labelFontSize": 31, "labelPadding": 39, "labelBaseline": "alphabetic", "labelExpr": "datum.value < 0 ? '-' + abs(datum.value) : '' + datum.value", "title": null}},
           "y": {"field": "y", "type": "quantitative", "scale": {"domain": [0, 2.2], "nice": false, "zero": false}, "axis": {"orient": "left", "values": [1, 2], "labels": false, "title": null}}
         }},
        {"data": {"name": "curves"}, "transform": [{"filter": "datum.panel == 'top14' && datum.series == 'theory'"}],
         "mark": {"type": "line", "color": "#3d5ab3", "strokeWidth": 3.5, "strokeDash": [7, 4], "interpolate": "monotone"},
         "encoding": {"x": {"field": "x", "type": "quantitative", "scale": {"domain": [-200, 200], "nice": false, "zero": false}, "axis": null}, "y": {"field": "y", "type": "quantitative", "scale": {"domain": [0, 2.2], "nice": false, "zero": false}, "axis": null}}},
        {"data": {"values": [{}]}, "mark": {"type": "rect", "filled": false, "color": "#1a1a1a", "strokeWidth": 3},
         "encoding": {"x": {"datum": -200, "type": "quantitative", "scale": {"domain": [-200, 200], "nice": false, "zero": false}, "axis": {"orient": "top", "values": [-100, 0, 100], "labels": false, "title": null}}, "x2": {"datum": 200}, "y": {"datum": 0, "type": "quantitative", "scale": {"domain": [0, 2.2], "nice": false, "zero": false}, "axis": {"orient": "right", "values": [1, 2], "labels": false, "title": null}}, "y2": {"datum": 2.2}}},
        {"data": {"values": [{}]}, "mark": {"type": "text", "text": "t", "fontStyle": "italic", "fontSize": 40, "align": "left", "baseline": "alphabetic", "dx": -86, "dy": -28.3},
         "encoding": {"x": {"datum": 0, "type": "quantitative", "scale": {"domain": [-200, 200], "nice": false, "zero": false}, "axis": null}, "y": {"datum": 2.2, "type": "quantitative", "scale": {"domain": [0, 2.2], "nice": false, "zero": false}, "axis": null}}},
        {"data": {"values": [{}]}, "mark": {"type": "text", "text": "E", "fontStyle": "italic", "fontSize": 30, "align": "left", "baseline": "alphabetic", "dx": -72, "dy": -20},
         "encoding": {"x": {"datum": 0, "type": "quantitative", "scale": {"domain": [-200, 200], "nice": false, "zero": false}, "axis": null}, "y": {"datum": 2.2, "type": "quantitative", "scale": {"domain": [0, 2.2], "nice": false, "zero": false}, "axis": null}}},
        {"data": {"values": [{}]}, "mark": {"type": "text", "text": "= 14τ", "fontSize": 40, "align": "left", "baseline": "alphabetic", "dx": -37, "dy": -28.3},
         "encoding": {"x": {"datum": 0, "type": "quantitative", "scale": {"domain": [-200, 200], "nice": false, "zero": false}, "axis": null}, "y": {"datum": 2.2, "type": "quantitative", "scale": {"domain": [0, 2.2], "nice": false, "zero": false}, "axis": null}}}
      ]
    },
    {
      "width": 395, "height": 363,
      "resolve": {"axis": {"x": "independent", "y": "independent"}},
      "layer": [
        {"data": {"name": "curves"}, "transform": [{"filter": "datum.panel == 'top36' && datum.series == 'experiment'"}],
         "mark": {"type": "line", "color": "#1c1c1c", "strokeWidth": 3},
         "encoding": {
           "x": {"field": "x", "type": "quantitative", "scale": {"domain": [-200, 200], "nice": false, "zero": false}, "axis": {"orient": "bottom", "values": [-100, 0, 100], "labelFontSize": 31, "labelPadding": 39, "labelBaseline": "alphabetic", "labelExpr": "datum.value < 0 ? '-' + abs(datum.value) : '' + datum.value", "title": null}},
           "y": {"field": "y", "type": "quantitative", "scale": {"domain": [0, 2.2], "nice": false, "zero": false}, "axis": {"orient": "left", "values": [1, 2], "labels": false, "title": null}}
         }},
        {"data": {"name": "curves"}, "transform": [{"filter": "datum.panel == 'top36' && datum.series == 'theory'"}],
         "mark": {"type": "line", "color": "#3d5ab3", "strokeWidth": 3.5, "strokeDash": [7, 4], "interpolate": "monotone"},
         "encoding": {"x": {"field": "x", "type": "quantitative", "scale": {"domain": [-200, 200], "nice": false, "zero": false}, "axis": null}, "y": {"field": "y", "type": "quantitative", "scale": {"domain": [0, 2.2], "nice": false, "zero": false}, "axis": null}}},
        {"data": {"values": [{}]}, "mark": {"type": "rect", "filled": false, "color": "#1a1a1a", "strokeWidth": 3},
         "encoding": {"x": {"datum": -200, "type": "quantitative", "scale": {"domain": [-200, 200], "nice": false, "zero": false}, "axis": {"orient": "top", "values": [-100, 0, 100], "labels": false, "title": null}}, "x2": {"datum": 200}, "y": {"datum": 0, "type": "quantitative", "scale": {"domain": [0, 2.2], "nice": false, "zero": false}, "axis": {"orient": "right", "values": [1, 2], "labels": false, "title": null}}, "y2": {"datum": 2.2}}},
        {"data": {"values": [{}]}, "mark": {"type": "rule", "color": "#1c1c1c", "strokeWidth": 4},
         "encoding": {"x": {"datum": -101.3, "type": "quantitative", "scale": {"domain": [-200, 200], "nice": false, "zero": false}, "axis": null}, "x2": {"datum": -28.4}, "y": {"datum": 1.994, "type": "quantitative", "scale": {"domain": [0, 2.2], "nice": false, "zero": false}, "axis": null}}},
        {"data": {"values": [{}]}, "mark": {"type": "rule", "color": "#3d5ab3", "strokeWidth": 4, "strokeDash": [8, 4]},
         "encoding": {"x": {"datum": -101.3, "type": "quantitative", "scale": {"domain": [-200, 200], "nice": false, "zero": false}, "axis": null}, "x2": {"datum": -28.4}, "y": {"datum": 1.786, "type": "quantitative", "scale": {"domain": [0, 2.2], "nice": false, "zero": false}, "axis": null}}},
        {"data": {"values": [{}]}, "mark": {"type": "text", "text": "experiment", "fontSize": 33, "align": "left", "baseline": "alphabetic", "dy": 9},
         "encoding": {"x": {"datum": -12.2, "type": "quantitative", "scale": {"domain": [-200, 200], "nice": false, "zero": false}, "axis": null}, "y": {"datum": 1.994, "type": "quantitative", "scale": {"domain": [0, 2.2], "nice": false, "zero": false}, "axis": null}}},
        {"data": {"values": [{}]}, "mark": {"type": "text", "text": "theory", "fontSize": 33, "align": "left", "baseline": "alphabetic", "dy": 9},
         "encoding": {"x": {"datum": -12.2, "type": "quantitative", "scale": {"domain": [-200, 200], "nice": false, "zero": false}, "axis": null}, "y": {"datum": 1.786, "type": "quantitative", "scale": {"domain": [0, 2.2], "nice": false, "zero": false}, "axis": null}}},
        {"data": {"values": [{}]}, "mark": {"type": "text", "text": "t", "fontStyle": "italic", "fontSize": 40, "align": "left", "baseline": "alphabetic", "dx": -100.5, "dy": -28.3},
         "encoding": {"x": {"datum": 0, "type": "quantitative", "scale": {"domain": [-200, 200], "nice": false, "zero": false}, "axis": null}, "y": {"datum": 2.2, "type": "quantitative", "scale": {"domain": [0, 2.2], "nice": false, "zero": false}, "axis": null}}},
        {"data": {"values": [{}]}, "mark": {"type": "text", "text": "E", "fontStyle": "italic", "fontSize": 30, "align": "left", "baseline": "alphabetic", "dx": -86.5, "dy": -20},
         "encoding": {"x": {"datum": 0, "type": "quantitative", "scale": {"domain": [-200, 200], "nice": false, "zero": false}, "axis": null}, "y": {"datum": 2.2, "type": "quantitative", "scale": {"domain": [0, 2.2], "nice": false, "zero": false}, "axis": null}}},
        {"data": {"values": [{}]}, "mark": {"type": "text", "text": "= 36τ", "fontSize": 40, "align": "left", "baseline": "alphabetic", "dx": -53, "dy": -28.3},
         "encoding": {"x": {"datum": 0, "type": "quantitative", "scale": {"domain": [-200, 200], "nice": false, "zero": false}, "axis": null}, "y": {"datum": 2.2, "type": "quantitative", "scale": {"domain": [0, 2.2], "nice": false, "zero": false}, "axis": null}}}
      ]
    },
    {
      "width": 395, "height": 368,
      "resolve": {"axis": {"x": "independent", "y": "independent"}},
      "layer": [
        {"data": {"values": [{}]}, "mark": {"type": "rect", "color": "#d8d8d8"},
         "encoding": {"x": {"datum": -469.05, "type": "quantitative", "scale": {"domain": [-365, 365], "nice": false, "zero": false}, "axis": null}, "x2": {"datum": 2749.8}, "y": {"datum": -0.5754, "type": "quantitative", "scale": {"domain": [0, 2.75], "nice": false, "zero": false}, "axis": null}, "y2": {"datum": 2.8793}}},
        {"data": {"values": [{}]}, "mark": {"type": "rect", "color": "white"},
         "encoding": {"x": {"datum": -365, "type": "quantitative", "scale": {"domain": [-365, 365], "nice": false, "zero": false}, "axis": null}, "x2": {"datum": 365}, "y": {"datum": 0, "type": "quantitative", "scale": {"domain": [0, 2.75], "nice": false, "zero": false}, "axis": null}, "y2": {"datum": 2.75}}},
        {"data": {"name": "curves"}, "transform": [{"filter": "datum.panel == 'bot0' && datum.series == 'experiment'"}],
         "mark": {"type": "line", "color": "#1c1c1c", "strokeWidth": 3},
         "encoding": {
           "x": {"field": "x", "type": "quantitative", "scale": {"domain": [-365, 365], "nice": false, "zero": false}, "axis": {"orient": "bottom", "zindex": 1, "values": [-200, 0, 200], "labelFontSize": 30, "labelPadding": 39.7, "labelBaseline": "alphabetic", "labelExpr": "datum.value < 0 ? '-' + abs(datum.value) : '' + datum.value", "title": null}},
           "y": {"field": "y", "type": "quantitative", "scale": {"domain": [0, 2.75], "nice": false, "zero": false}, "axis": {"orient": "left", "zindex": 1, "values": [1, 2], "labels": false, "title": "normalized density (a.u.)", "titleFontSize": 33, "titleX": -22.3, "titleY": 204.2, "titleAngle": 270, "titleAlign": "center", "titleBaseline": "alphabetic"}}
         }},
        {"data": {"name": "curves"}, "transform": [{"filter": "datum.panel == 'bot0' && datum.series == 'theory'"}],
         "mark": {"type": "line", "color": "#3d5ab3", "strokeWidth": 3.5, "strokeDash": [7, 4], "interpolate": "monotone"},
         "encoding": {"x": {"field": "x", "type": "quantitative", "scale": {"domain": [-365, 365], "nice": false, "zero": false}, "axis": null}, "y": {"field": "y", "type": "quantitative", "scale": {"domain": [0, 2.75], "nice": false, "zero": false}, "axis": null}}},
        {"data": {"values": [{}]}, "mark": {"type": "rect", "filled": false, "color": "#1a1a1a", "strokeWidth": 3},
         "encoding": {"x": {"datum": -365, "type": "quantitative", "scale": {"domain": [-365, 365], "nice": false, "zero": false}, "axis": {"orient": "top", "zindex": 1, "values": [-200, 0, 200], "labels": false, "title": null}}, "x2": {"datum": 365}, "y": {"datum": 0, "type": "quantitative", "scale": {"domain": [0, 2.75], "nice": false, "zero": false}, "axis": {"orient": "right", "zindex": 1, "values": [1, 2], "labels": false, "title": null}}, "y2": {"datum": 2.75}}},
        {"data": {"values": [{}]}, "mark": {"type": "text", "text": "time of flight position (μm)", "fontSize": 32, "align": "center", "baseline": "alphabetic"},
         "encoding": {"x": {"datum": 1177.6, "type": "quantitative", "scale": {"domain": [-365, 365], "nice": false, "zero": false}, "axis": null}, "y": {"datum": -0.5156, "type": "quantitative", "scale": {"domain": [0, 2.75], "nice": false, "zero": false}, "axis": null}}},
        {"data": {"values": [{}]}, "mark": {"type": "rule", "color": "#262626", "strokeWidth": 7},
         "encoding": {"x": {"datum": -175.2, "type": "quantitative", "scale": {"domain": [-365, 365], "nice": false, "zero": false}, "axis": null}, "x2": {"datum": -20.88}, "y": {"datum": -0.5455, "type": "quantitative", "scale": {"domain": [0, 2.75], "nice": false, "zero": false}, "axis": null}, "y2": {"datum": 0.8743}}},
        {"data": {"values": [{}]}, "mark": {"type": "point", "shape": "M1,0L-1,-0.9L-1,0.9Z", "size": 576, "angle": 293.7, "filled": true, "color": "#262626", "opacity": 1},
         "encoding": {"x": {"datum": -20.88, "type": "quantitative", "scale": {"domain": [-365, 365], "nice": false, "zero": false}, "axis": null}, "y": {"datum": 0.8743, "type": "quantitative", "scale": {"domain": [0, 2.75], "nice": false, "zero": false}, "axis": null}}}
      ]
    },
    {
      "width": 395, "height": 368,
      "resolve": {"axis": {"x": "independent", "y": "independent"}},
      "layer": [
        {"data": {"name": "curves"}, "transform": [{"filter": "datum.panel == 'bot7' && datum.series == 'experiment'"}],
         "mark": {"type": "line", "color": "#1c1c1c", "strokeWidth": 3},
         "encoding": {
           "x": {"field": "x", "type": "quantitative", "scale": {"domain": [-365, 365], "nice": false, "zero": false}, "axis": {"orient": "bottom", "values": [-200, 0, 200], "labelFontSize": 30, "labelPadding": 39.7, "labelBaseline": "alphabetic", "labelExpr": "datum.value < 0 ? '-' + abs(datum.value) : '' + datum.value", "title": null}},
           "y": {"field": "y", "type": "quantitative", "scale": {"domain": [0, 2.75], "nice": false, "zero": false}, "axis": {"orient": "left", "values": [1, 2], "labels": false, "title": null}}
         }},
        {"data": {"name": "curves"}, "transform": [{"filter": "datum.panel == 'bot7' && datum.series == 'theory'"}],
         "mark": {"type": "line", "color": "#3d5ab3", "strokeWidth": 3.5, "strokeDash": [7, 4], "interpolate": "monotone"},
         "encoding": {"x": {"field": "x", "type": "quantitative", "scale": {"domain": [-365, 365], "nice": false, "zero": false}, "axis": null}, "y": {"field": "y", "type": "quantitative", "scale": {"domain": [0, 2.75], "nice": false, "zero": false}, "axis": null}}},
        {"data": {"values": [{}]}, "mark": {"type": "rect", "filled": false, "color": "#1a1a1a", "strokeWidth": 3},
         "encoding": {"x": {"datum": -365, "type": "quantitative", "scale": {"domain": [-365, 365], "nice": false, "zero": false}, "axis": {"orient": "top", "values": [-200, 0, 200], "labels": false, "title": null}}, "x2": {"datum": 365}, "y": {"datum": 0, "type": "quantitative", "scale": {"domain": [0, 2.75], "nice": false, "zero": false}, "axis": {"orient": "right", "values": [1, 2], "labels": false, "title": null}}, "y2": {"datum": 2.75}}}
      ]
    },
    {
      "width": 395, "height": 368,
      "resolve": {"axis": {"x": "independent", "y": "independent"}},
      "layer": [
        {"data": {"name": "curves"}, "transform": [{"filter": "datum.panel == 'bot14' && datum.series == 'experiment'"}],
         "mark": {"type": "line", "color": "#1c1c1c", "strokeWidth": 3},
         "encoding": {
           "x": {"field": "x", "type": "quantitative", "scale": {"domain": [-365, 365], "nice": false, "zero": false}, "axis": {"orient": "bottom", "values": [-200, 0, 200], "labelFontSize": 30, "labelPadding": 39.7, "labelBaseline": "alphabetic", "labelExpr": "datum.value < 0 ? '-' + abs(datum.value) : '' + datum.value", "title": null}},
           "y": {"field": "y", "type": "quantitative", "scale": {"domain": [0, 2.75], "nice": false, "zero": false}, "axis": {"orient": "left", "values": [1, 2], "labels": false, "title": null}}
         }},
        {"data": {"name": "curves"}, "transform": [{"filter": "datum.panel == 'bot14' && datum.series == 'theory'"}],
         "mark": {"type": "line", "color": "#3d5ab3", "strokeWidth": 3.5, "strokeDash": [7, 4], "interpolate": "monotone"},
         "encoding": {"x": {"field": "x", "type": "quantitative", "scale": {"domain": [-365, 365], "nice": false, "zero": false}, "axis": null}, "y": {"field": "y", "type": "quantitative", "scale": {"domain": [0, 2.75], "nice": false, "zero": false}, "axis": null}}},
        {"data": {"values": [{}]}, "mark": {"type": "rect", "filled": false, "color": "#1a1a1a", "strokeWidth": 3},
         "encoding": {"x": {"datum": -365, "type": "quantitative", "scale": {"domain": [-365, 365], "nice": false, "zero": false}, "axis": {"orient": "top", "values": [-200, 0, 200], "labels": false, "title": null}}, "x2": {"datum": 365}, "y": {"datum": 0, "type": "quantitative", "scale": {"domain": [0, 2.75], "nice": false, "zero": false}, "axis": {"orient": "right", "values": [1, 2], "labels": false, "title": null}}, "y2": {"datum": 2.75}}}
      ]
    },
    {
      "width": 395, "height": 368,
      "resolve": {"axis": {"x": "independent", "y": "independent"}},
      "layer": [
        {"data": {"name": "curves"}, "transform": [{"filter": "datum.panel == 'bot36' && datum.series == 'experiment'"}],
         "mark": {"type": "line", "color": "#1c1c1c", "strokeWidth": 3},
         "encoding": {
           "x": {"field": "x", "type": "quantitative", "scale": {"domain": [-365, 365], "nice": false, "zero": false}, "axis": {"orient": "bottom", "values": [-200, 0, 200], "labelFontSize": 30, "labelPadding": 39.7, "labelBaseline": "alphabetic", "labelExpr": "datum.value < 0 ? '-' + abs(datum.value) : '' + datum.value", "title": null}},
           "y": {"field": "y", "type": "quantitative", "scale": {"domain": [0, 2.75], "nice": false, "zero": false}, "axis": {"orient": "left", "values": [1, 2], "labels": false, "title": null}}
         }},
        {"data": {"name": "curves"}, "transform": [{"filter": "datum.panel == 'bot36' && datum.series == 'theory'"}],
         "mark": {"type": "line", "color": "#3d5ab3", "strokeWidth": 3.5, "strokeDash": [7, 4], "interpolate": "monotone"},
         "encoding": {"x": {"field": "x", "type": "quantitative", "scale": {"domain": [-365, 365], "nice": false, "zero": false}, "axis": null}, "y": {"field": "y", "type": "quantitative", "scale": {"domain": [0, 2.75], "nice": false, "zero": false}, "axis": null}}},
        {"data": {"values": [{}]}, "mark": {"type": "rect", "filled": false, "color": "#1a1a1a", "strokeWidth": 3},
         "encoding": {"x": {"datum": -365, "type": "quantitative", "scale": {"domain": [-365, 365], "nice": false, "zero": false}, "axis": {"orient": "top", "values": [-200, 0, 200], "labels": false, "title": null}}, "x2": {"datum": 365}, "y": {"datum": 0, "type": "quantitative", "scale": {"domain": [0, 2.75], "nice": false, "zero": false}, "axis": {"orient": "right", "values": [1, 2], "labels": false, "title": null}}, "y2": {"datum": 2.75}}},
        {"data": {"values": [{}]}, "mark": {"type": "point", "shape": "M-0.5714,-0.3386L-0.492,-0.14L-0.8746,-0.12L-0.6234,0.0354L-0.9814,0.0966L-0.678,0.2134L-0.8634,0.33L-0.5434,0.35L-0.5334,0.5034L-0.2966,0.3454L-0.19,0.4166L-0.0834,0.31L0.0734,0.3734L0.1266,0.24L0.3766,0.3066L0.35,0.1666L0.7366,0.2254L0.51,0.07L0.68,0.0214L0.5666,-0.0666L0.9834,-0.1946L0.51,-0.2014L0.6566,-0.3586L0.34,-0.2386L0.3634,-0.508L0.0614,-0.3054L-0.0966,-0.4186L-0.2034,-0.21Z", "size": 1000000, "filled": true, "opacity": 1, "fill": {"gradient": "linear", "x1": 0, "y1": 0, "x2": 0, "y2": 1, "stops": [{"offset": 0, "color": "#f7e5e5"}, {"offset": 0.5, "color": "#efcaca"}, {"offset": 1, "color": "#e5a8a8"}]}, "stroke": "#a33b3b", "strokeWidth": 1.6},
         "encoding": {"x": {"datum": -929.6, "type": "quantitative", "scale": {"domain": [-365, 365], "nice": false, "zero": false}, "axis": null}, "y": {"datum": 4.394, "type": "quantitative", "scale": {"domain": [0, 2.75], "nice": false, "zero": false}, "axis": null}}},
        {"data": {"values": [{}]}, "mark": {"type": "text", "text": ["Spontaneously", "emerging order", "≠ground state", "order"], "font": "Noto Sans", "fontSize": 50, "fontWeight": "bold", "fontStyle": "italic", "lineHeight": 69, "align": "center", "baseline": "alphabetic", "color": "black"},
         "encoding": {"x": {"datum": -994.3, "type": "quantitative", "scale": {"domain": [-365, 365], "nice": false, "zero": false}, "axis": null}, "y": {"datum": 4.9672, "type": "quantitative", "scale": {"domain": [0, 2.75], "nice": false, "zero": false}, "axis": null}}},
        {"data": {"values": [{}]}, "mark": {"type": "rule", "color": "#953735", "strokeWidth": 7},
         "encoding": {"x": {"datum": -861.8, "type": "quantitative", "scale": {"domain": [-365, 365], "nice": false, "zero": false}, "axis": null}, "x2": {"datum": -180.2}, "y": {"datum": 2.9989, "type": "quantitative", "scale": {"domain": [0, 2.75], "nice": false, "zero": false}, "axis": null}, "y2": {"datum": 1.8854}}},
        {"data": {"values": [{}]}, "mark": {"type": "point", "shape": "M1,0L-1,-0.9L-1,0.9Z", "size": 576, "angle": 22, "filled": true, "color": "#953735", "opacity": 1},
         "encoding": {"x": {"datum": -180.2, "type": "quantitative", "scale": {"domain": [-365, 365], "nice": false, "zero": false}, "axis": null}, "y": {"datum": 1.8854, "type": "quantitative", "scale": {"domain": [0, 2.75], "nice": false, "zero": false}, "axis": null}}}
      ]
    }
  ]
}
